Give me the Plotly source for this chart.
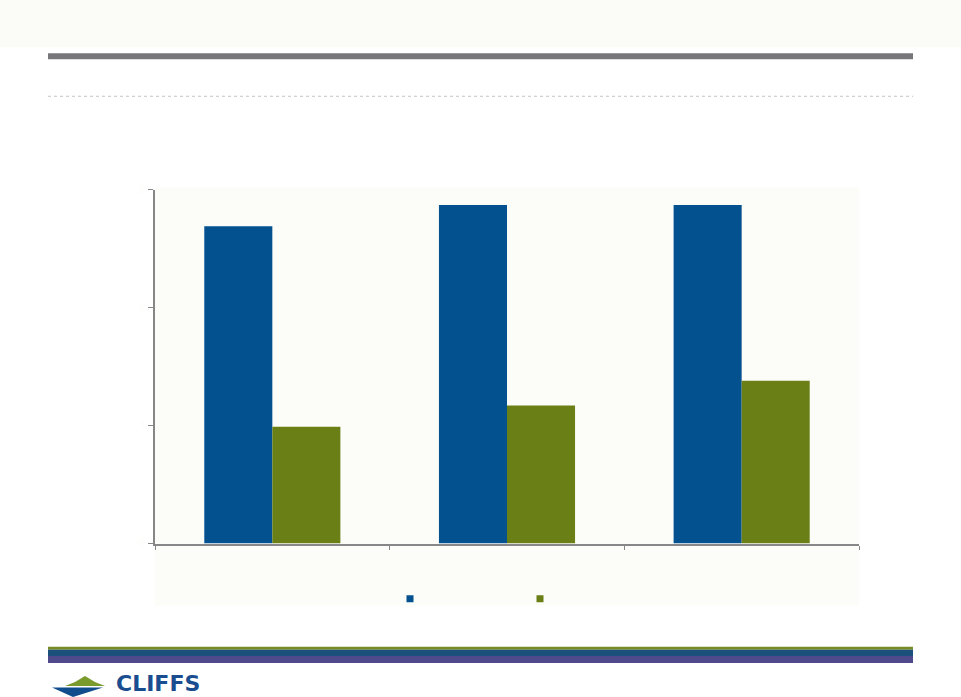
import plotly.graph_objects as go

W, H = 961, 697

categories = ["2010", "2011", "2012"]
series_names = ["Series 1", "Series 2"]
series_a = [2.69, 2.87, 2.87]
series_b = [0.99, 1.17, 1.38]
y_ticks = [0, 1, 2, 3]
y_tick_labels = ["0", "1", "2", "3"]

BLUE = "#03518f"
GREEN = "#6b7f17"
AXIS = "#878787"
BG = "#fcfdf9"

def px(x):
    return x / W

def py(y):
    return 1 - y / H

fig = go.Figure()
fig.add_trace(go.Bar(x=categories, y=series_a, name=series_names[0],
                     marker=dict(color=BLUE, line=dict(width=0)), showlegend=False))
fig.add_trace(go.Bar(x=categories, y=series_b, name=series_names[1],
                     marker=dict(color=GREEN, line=dict(width=0)), showlegend=False))
# legend entries with small square markers
fig.add_trace(go.Scatter(x=[None], y=[None], mode="markers", name=series_names[0],
                         marker=dict(symbol="square", size=7, color=BLUE)))
fig.add_trace(go.Scatter(x=[None], y=[None], mode="markers", name=series_names[1],
                         marker=dict(symbol="square", size=7, color=GREEN)))

shapes = []
# header off-white band
shapes.append(dict(type="rect", xref="paper", yref="paper", x0=0, x1=1, y0=py(48), y1=1,
                   fillcolor="#fbfbf8", line=dict(width=0), layer="below"))
# dark gray bar
shapes.append(dict(type="rect", xref="paper", yref="paper", x0=px(48), x1=px(913), y0=py(60), y1=py(54),
                   fillcolor="#77777b", line=dict(width=0)))
# thin dotted line
shapes.append(dict(type="line", xref="paper", yref="paper", x0=px(48), x1=px(913), y0=py(97), y1=py(97),
                   line=dict(color="#c4c4c4", width=1, dash="dot")))
# chart background incl. legend area
shapes.append(dict(type="rect", xref="paper", yref="paper", x0=px(155), x1=px(859), y0=py(605), y1=py(188),
                   fillcolor=BG, line=dict(width=0), layer="below"))
# bottom stripes
shapes.append(dict(type="rect", xref="paper", yref="paper", x0=px(48), x1=px(913), y0=py(649), y1=py(646),
                   fillcolor="#778b26", line=dict(width=0)))
shapes.append(dict(type="rect", xref="paper", yref="paper", x0=px(48), x1=px(913), y0=py(655), y1=py(649),
                   fillcolor="#1b4f7c", line=dict(width=0)))
shapes.append(dict(type="rect", xref="paper", yref="paper", x0=px(48), x1=px(913), y0=py(662), y1=py(655),
                   fillcolor="#4e4a8c", line=dict(width=0)))

def path(points):
    s = "M " + " L ".join(f"{px(x):.5f},{py(y):.5f}" for x, y in points) + " Z"
    return s

# logo green triangle
shapes.append(dict(type="path", xref="paper", yref="paper",
                   path=path([(65, 685), (75, 681), (85, 675), (95, 681), (105, 685)]),
                   fillcolor="#7a9a2c", line=dict(width=0)))
# logo blue triangle
shapes.append(dict(type="path", xref="paper", yref="paper",
                   path=path([(52, 686.5), (103, 686.5), (73, 696)]),
                   fillcolor="#114d8c", line=dict(width=0)))

FIG_H = 714

fig.update_layout(
    width=W, height=FIG_H,
    margin=dict(l=0, r=0, t=0, b=0),
    paper_bgcolor="white",
    plot_bgcolor=BG,
    barmode="group",
    bargap=0.42,
    bargroupgap=0,
    shapes=shapes,
    showlegend=True,
    legend=dict(orientation="h", x=px(390), y=py(598), xanchor="left", yanchor="middle",
                bgcolor="rgba(0,0,0,0)", font=dict(size=11, color=BG, family="Liberation Sans"),
                entrywidth=85, entrywidthmode="pixels", itemclick=False),
    xaxis=dict(domain=[px(155), px(859)], showgrid=False, zeroline=False,
               showline=True, linecolor=AXIS, linewidth=2,
               ticks="outside", ticklen=4, tickcolor=AXIS, tickwidth=1,
               tickson="boundaries",
               tickfont=dict(color=BG, size=11)),
    yaxis=dict(domain=[py(543), py(190)], range=[0, 3], showgrid=False, zeroline=False,
               showline=True, linecolor=AXIS, linewidth=2,
               ticks="outside", ticklen=5, tickcolor=AXIS, tickwidth=1,
               tickvals=y_ticks, ticktext=y_tick_labels,
               tickfont=dict(color=BG, size=11)),
    annotations=[dict(text="<b>CLIFFS</b>", xref="paper", yref="paper", x=px(114), y=py(683),
                      xanchor="left", yanchor="middle", showarrow=False,
                      font=dict(family="DejaVu Sans", size=22, color="#1a4d8f"))],
)

post = ("var d=document.getElementById('{plot_id}');"
        "d.style.position='fixed';d.style.top='-9px';d.style.left='0px';"
        "document.body.style.margin='0';"
        "document.documentElement.style.overflow='hidden';"
        "document.body.style.overflow='hidden';")

fig.write_html("out.html", config={"displayModeBar": False}, post_script=post)
